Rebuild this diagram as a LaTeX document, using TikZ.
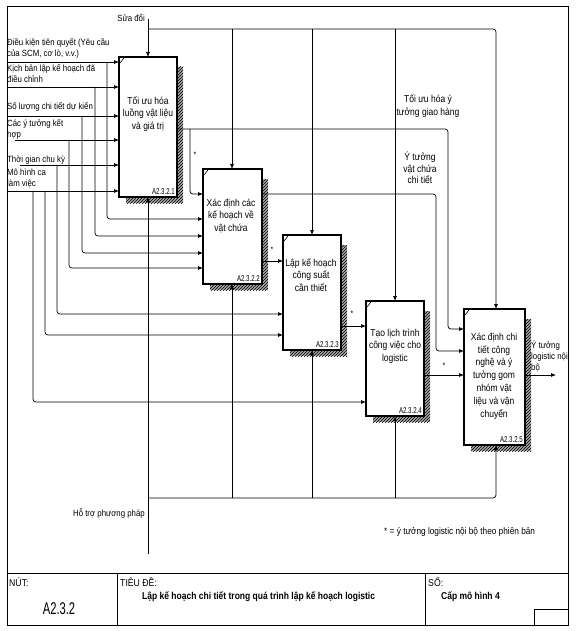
\documentclass[tikz,border=0pt]{standalone}
\usepackage{fontspec}
\setmainfont{Liberation Sans}
\newfontfamily\lblf[FakeStretch=0.87]{Liberation Sans}
\newfontfamily\boxf[FakeStretch=0.85]{Liberation Sans}
\newfontfamily\idf[FakeStretch=0.72]{Liberation Sans}
\newfontfamily\bigf[FakeStretch=0.66]{Liberation Sans}
\usetikzlibrary{arrows.meta,calc,patterns}
\begin{document}
\begin{tikzpicture}[x=1pt,y=-1pt,
  box/.style={draw, line width=1.2pt, inner sep=0pt, outer sep=0pt, anchor=north west},
  boxtxt/.style={align=center, inner sep=0pt, font=\boxf\fontsize{10}{12.5}\selectfont},
  idtxt/.style={inner sep=0pt, anchor=south east, font=\idf\fontsize{8.5}{9}\selectfont},
  lbl/.style={align=left, inner sep=0pt, anchor=west, font=\lblf\fontsize{9}{11}\selectfont},
  clbl/.style={align=center, inner sep=0pt, font=\boxf\fontsize{10}{12.5}\selectfont},
  conn/.style={line width=0.7pt},
  arr/.style={conn, -{Latex[length=5pt,width=4pt]}},
  starl/.style={inner sep=0pt, font=\lblf\fontsize{8}{8}\selectfont},
  tbl/.style={inner sep=0pt, anchor=west, font=\lblf\fontsize{10}{11}\selectfont},
  tbold/.style={inner sep=0pt, anchor=west, font=\boxf\bfseries\fontsize{10}{11}\selectfont},
  frame/.style={line width=0.8pt},
  hatch/.style={pattern=north east lines, pattern color=black}
]
\fill[white] (0,0) rectangle (575,631);
\useasboundingbox (0,0) rectangle (575,631);

% frame and title block
\draw[frame] (7,6) rectangle (568,625);
\draw[frame] (7,573) -- (568,573);
\draw[frame] (117,573) -- (117,625);
\draw[frame] (425,573) -- (425,625);
\draw[frame] (534,609) rectangle (568,625);
\node[tbl] (nut) at (9,582) {NÚT:};
\node[inner sep=0pt, font=\bigf\fontsize{17}{18}\selectfont] (nodeid) at (59,609) {A2.3.2};
\node[tbl] (tieude) at (120,582) {TIÊU ĐỀ:};
\node[tbold] (title) at (142,597) {Lập kế hoạch chi tiết trong quá trình lập kế hoạch logistic};
\node[tbl] (so) at (428,582) {SỐ:};
\node[tbold] (cap) at (441,597) {Cấp mô hình 4};

% boxes
\node[box, minimum width=58pt, minimum height=140pt] (b1) at (119,57) {};
\node[box, minimum width=59pt, minimum height=115pt] (b2) at (203,169) {};
\node[box, minimum width=58pt, minimum height=115pt] (b3) at (283,235) {};
\node[box, minimum width=58pt, minimum height=115pt] (b4) at (366,301) {};
\node[box, minimum width=61pt, minimum height=136pt] (b5) at (464,309) {};

\foreach \b in {b1,b2,b3,b4,b5} {
  \fill[black!35] ($(\b.north east)+(1,10)$) rectangle ($(\b.south east)+(6,6)$);
  \fill[black!35] ($(\b.south west)+(7,1)$) rectangle ($(\b.south east)+(1,6)$);
  \fill[hatch] ($(\b.north east)+(1,10)$) rectangle ($(\b.south east)+(6,6)$);
  \fill[hatch] ($(\b.south west)+(7,1)$) rectangle ($(\b.south east)+(1,6)$);
  \draw[line width=0.6pt] ($(\b.north west)+(1,6)$) -- ($(\b.north west)+(5,1)$);
}

\node[boxtxt] (t1) at (148,114) {Tối ưu hóa\\luồng vật liệu\\và giá trị};
\node[boxtxt] (t2) at (231,216) {Xác định các\\kế hoạch về\\vật chứa};
\node[boxtxt] (t3) at (311,275) {Lập kế hoạch\\công suất\\cần thiết};
\node[boxtxt] (t4) at (395,346) {Tạo lịch trình\\công việc cho\\logistic};
\node[boxtxt, font=\boxf\fontsize{10}{12.8}\selectfont] (t5) at (494,376) {Xác định chi\\tiết công\\nghệ và ý\\tưởng gom\\nhóm vật\\liệu và vận\\chuyển};

\node[idtxt] (id1) at ($(b1.south east)+(-2,-2)$) {A2.3.2.1};
\node[idtxt] (id2) at ($(b2.south east)+(-2,-2)$) {A2.3.2.2};
\node[idtxt] (id3) at ($(b3.south east)+(-2,-2)$) {A2.3.2.3};
\node[idtxt] (id4) at ($(b4.south east)+(-2,-2)$) {A2.3.2.4};
\node[idtxt] (id5) at ($(b5.south east)+(-2,-2)$) {A2.3.2.5};

% input labels
\node[lbl] (l1) at (7,48) {Điều kiện tiên quyết (Yêu cầu\\của SCM, cơ lò, v.v.)};
\node[lbl] (l2) at (7,74) {Kịch bản lập kế hoạch đã\\điều chỉnh};
\node[lbl] (l3) at (7,107) {Số lượng chi tiết dự kiến};
\node[lbl] (l4) at (7,129) {Các ý tưởng kết\\hợp};
\node[lbl] (l5) at (7,160) {Thời gian chu kỳ};
\node[lbl] (l6) at (7,178) {Mô hình ca\\làm việc};

% inputs to box 1
\coordinate (i1) at (8,62);
\coordinate (i2) at (8,87);
\coordinate (i3) at (8,116);
\coordinate (i4) at (15,140);
\coordinate (i5) at (20,165);
\coordinate (i6) at (8,191);
\foreach \n in {1,...,6} \draw[arr] (i\n) -- (i\n -| b1.west);

% branches of inputs
\coordinate (s1) at (107,62);
\coordinate (s2) at (95,87);
\coordinate (s3) at (82,116);
\coordinate (s4) at (69,140);
\coordinate (s5) at (57,165);
\coordinate (s6) at (45,191);
\coordinate (s7) at (33,191);
\draw[arr, rounded corners=3] (s1) |- ($(b2.north west)+(0,50)$);
\draw[arr, rounded corners=3] (s2) |- ($(b2.north west)+(0,67)$);
\draw[arr, rounded corners=3] (s3) |- ($(b2.north west)+(0,84)$);
\draw[arr, rounded corners=3] (s4) |- ($(b2.north west)+(0,99)$);
\draw[arr, rounded corners=3] (s5) |- ($(b3.north west)+(0,79)$);
\draw[arr, rounded corners=3] (s6) |- ($(b3.north west)+(0,100)$);
\draw[arr, rounded corners=3] (s7) |- ($(b4.north west)+(0,101)$);

% controls
\node[inner sep=0pt, anchor=east, font=\lblf\fontsize{9}{11}\selectfont] (sua) at (145,18) {Sửa đổi};
\coordinate (ctl) at (148,19);
\draw[arr] (ctl) -- (ctl |- b1.north);
\coordinate (cj) at (148,29);
\coordinate (cr) at (496,29);
\draw[arr, rounded corners=3] (cj) -- (cr) -- (cr |- b5.north);
\coordinate (c2) at (232,29);
\coordinate (c3) at (312,29);
\coordinate (c4) at (395,29);
\draw[arr] (c2) -- (c2 |- b2.north);
\draw[arr] (c3) -- (c3 |- b3.north);
\draw[arr] (c4) -- (c4 |- b4.north);

% mechanisms
\node[inner sep=0pt, anchor=east, font=\lblf\fontsize{9}{11}\selectfont] (hotro) at (145,514) {Hỗ trợ phương pháp};
\coordinate (mech) at (148,554);
\draw[arr] (mech) -- (mech |- b1.south);
\coordinate (mj) at (148,498);
\coordinate (mr) at (496,498);
\draw[arr, rounded corners=3] (mj) -- (mr) -- (mr |- b5.south);
\coordinate (m2) at (232,498);
\coordinate (m3) at (312,498);
\coordinate (m4) at (395,498);
\draw[arr] (m2) -- (m2 |- b2.south);
\draw[arr] (m3) -- (m3 |- b3.south);
\draw[arr] (m4) -- (m4 |- b4.south);

% outputs
\coordinate (o1) at ($(b1.north east)+(0,72)$);
\coordinate (o1b) at ($(o1)+(13,0)$);
\draw[arr, rounded corners=3] (o1) -| ($(b5.north west)+(-16,20)$) -- ($(b5.north west)+(0,20)$);
\draw[arr, rounded corners=3] (o1b) |- ($(b2.north west)+(0,25)$);
\draw[arr, rounded corners=3] ($(b2.north east)+(0,25)$) -| ($(b5.north west)+(-28,42)$) -- ($(b5.north west)+(0,42)$);
\draw[arr] ($(b2.north east)+(0,92)$) -- ($(b3.north west)+(0,26)$);
\draw[arr] ($(b3.north east)+(0,91)$) -- ($(b4.north west)+(0,25)$);
\draw[arr] ($(b4.north east)+(0,74)$) -- ($(b5.north west)+(0,66)$);
\coordinate (out5) at (556,375);
\draw[arr] ($(b5.north east)+(0,66)$) -- (out5);

% output labels and stars
\node[clbl] (lg) at (428,106) {Tối ưu hóa ý\\tưởng giao hàng};
\node[clbl, font=\boxf\fontsize{10}{11.5}\selectfont] (lv) at (420,168) {Ý tưởng\\vật chứa\\chi tiết};
\node[lbl, anchor=north west] (lo) at (531,340) {Ý tưởng\\logistic nội\\bộ};
\node[starl] (st1) at (195,155) {*};
\node[starl] (st2) at (272,250) {*};
\node[starl] (st3) at (352,314) {*};
\node[starl] (st4) at (444,366) {*};
\node[inner sep=0pt, anchor=west, font=\lblf\fontsize{9.5}{11}\selectfont] (foot) at (384,532) {* = ý tưởng logistic nội bộ theo phiên bản};
\end{tikzpicture}
\end{document}
